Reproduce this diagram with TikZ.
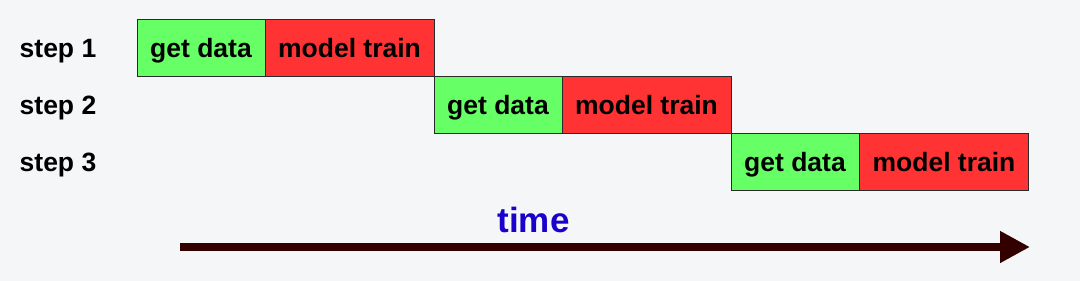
\documentclass[tikz,border=0pt]{standalone}
\usepackage{fontspec}
\setmainfont{Liberation Sans}
\usetikzlibrary{arrows.meta}
\definecolor{bg}{HTML}{F5F6F8}
\definecolor{gdata}{HTML}{66FF66}
\definecolor{mtrain}{HTML}{FF3333}
\definecolor{edge}{HTML}{2A2A2A}
\definecolor{timeblue}{HTML}{1A00CC}
\definecolor{arrowbrown}{HTML}{330000}
\begin{document}
\begin{tikzpicture}[x=1pt,y=-1pt,
  cell/.style={draw=edge,line width=1pt,inner sep=0pt,minimum height=57pt,
    font=\fontsize{26.5}{30}\selectfont\bfseries,text height=19pt,text depth=0pt},
  getbox/.style={cell,fill=gdata,minimum width=128pt},
  trainbox/.style={cell,fill=mtrain,minimum width=169pt},
  steplabel/.style={inner sep=0pt,font=\fontsize{26.5}{30}\selectfont\bfseries,text height=19pt,text depth=0pt},
  timearrow/.style={draw=arrowbrown,line width=8pt,-{Triangle[length=30pt,width=30pt]}}]
\fill[bg] (0,0) rectangle (1080,281);
\useasboundingbox (0,0) rectangle (1080,281);
% row 1
\node[steplabel] (s1) at (58,47.5) {step 1};
\node[getbox] (g1) at (201,47.5) {get data};
\node[trainbox] (t1) at (349.5,47.5) {model train};
% row 2
\node[steplabel] (s2) at (58,104.5) {step 2};
\node[getbox] (g2) at (498,104.5) {get data};
\node[trainbox] (t2) at (646.5,104.5) {model train};
% row 3
\node[steplabel] (s3) at (58,161.5) {step 3};
\node[getbox] (g3) at (795,161.5) {get data};
\node[trainbox] (t3) at (944,161.5) {model train};
% time
\node[anchor=base,inner sep=0pt,text=timeblue,font=\fontsize{35}{40}\selectfont\bfseries] (time) at (533.5,232) {time};
\coordinate (a0) at (180,247);
\coordinate (a1) at (1030,247);
\draw[timearrow] (a0) -- (a1);
\end{tikzpicture}
\end{document}
